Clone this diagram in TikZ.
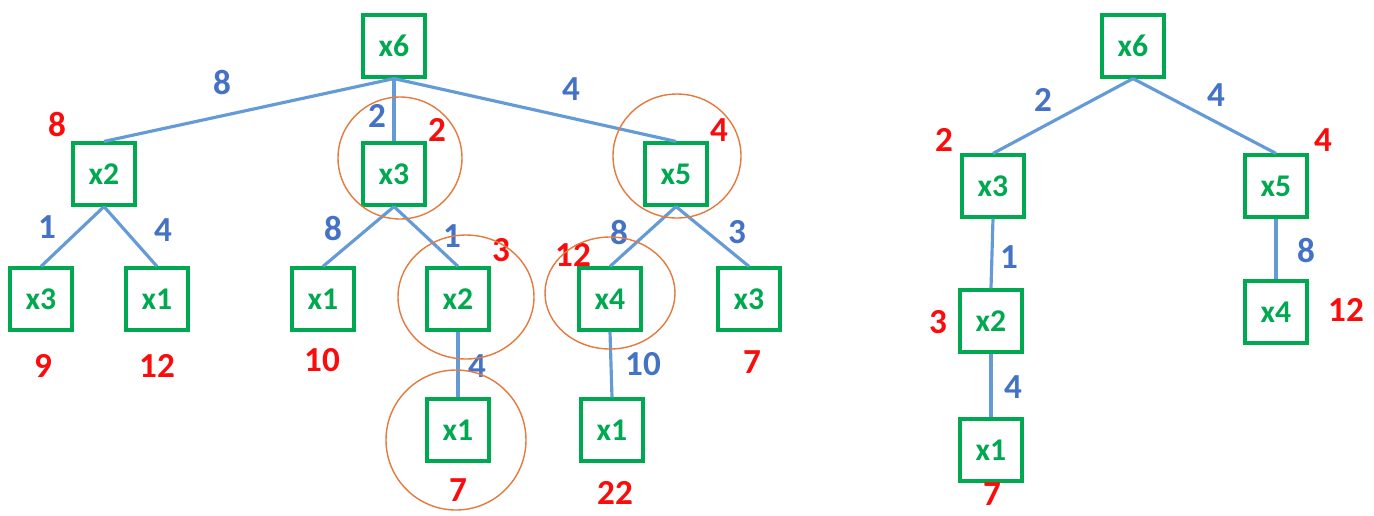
\documentclass[tikz,border=0pt]{standalone}
\usepackage{fontspec}
\setmainfont{Carlito}
\usetikzlibrary{positioning}
\definecolor{leafgreen}{RGB}{0,168,80}
\definecolor{wire}{RGB}{100,155,215}
\definecolor{costblue}{RGB}{68,114,196}
\definecolor{costred}{RGB}{250,12,12}
\definecolor{rust}{RGB}{228,122,62}
\tikzset{
  var/.style={draw=leafgreen,line width=1.8pt,minimum size=1.24cm,inner sep=0pt,
    text=leafgreen,font=\fontsize{18}{18}\selectfont\bfseries},
  wire/.style={draw=wire,line width=1.8pt},
  wt/.style={text=costblue,inner sep=1pt,font=\fontsize{20}{20}\selectfont\bfseries},
  acc/.style={text=costred,inner sep=1pt,font=\fontsize{20}{20}\selectfont\bfseries},
  ring/.style={draw=rust,line width=0.8pt},
}

\begin{document}
\begin{tikzpicture}[x=0.02cm,y=-0.02cm]
  \useasboundingbox (0,0) rectangle (1374,515);
  % left tree
  \foreach \n/\x/\y/\t in {L6/394/46/x6,L2/104/174/x2,L3/394/174/x3,L5/676/174/x5,
      La/41/299/x3,Lb/157/299/x1,Lc/323/299/x1,Ld/458/299/x2,Le/610/299/x4,Lf/749/299/x3,
      Lg/458/430/x1,Lh/612/430/x1}
    \node[var] (\n) at (\x,\y) {\t};
  \foreach \a/\b in {L6/L2,L6/L3,L6/L5,L2/La,L2/Lb,L3/Lc,L3/Ld,Ld/Lg,L5/Le,L5/Lf,Le/Lh}
    \draw[wire] (\a.south) -- (\b.north);
  % right tree
  \foreach \n/\x/\y/\t in {R6/1133/46/x6,R3/993/186/x3,R5/1276/186/x5,
      R2/991/321/x2,R4/1276/312/x4,R1/991/450/x1}
    \node[var] (\n) at (\x,\y) {\t};
  \foreach \a/\b in {R6/R3,R6/R5,R3/R2,R2/R1,R5/R4}
    \draw[wire] (\a.south) -- (\b.north);
  % edge costs
  \foreach \x/\y/\t [count=\i] in {222/82/8,377/116/2,571/89/4,47/227/1,163/230/4,
      333/228/8,452/236/1,619/232/8,737/232/3,477/366/4,643/364/10,
      1043/100/2,1216/95/4,1009/257/1,1013/387/4,1306/250/8}
    \node[wt] (w\i) at (\x,\y) {\t};
  % path costs
  \foreach \x/\y/\t [count=\i] in {57/124/8,437/130/2,719/130/4,501/250/3,573/255/12,
      43/366/9,157/366/12,322/360/10,458/490/7,615/493/22,752/362/7,
      944/140/2,1323/140/4,938/322/3,1346/310/12,992/494/7}
    \node[acc] (c\i) at (\x,\y) {\t};
  % visited
  \draw[ring] (400,158) ellipse [x radius=62,y radius=61];
  \draw[ring] (677,156) ellipse [x radius=64,y radius=62];
  \draw[ring] (466,297) ellipse [x radius=68,y radius=62];
  \draw[ring] (610,293) ellipse [x radius=65,y radius=56];
  \draw[ring] (456,440) ellipse [x radius=70,y radius=70];
\end{tikzpicture}
\end{document}
